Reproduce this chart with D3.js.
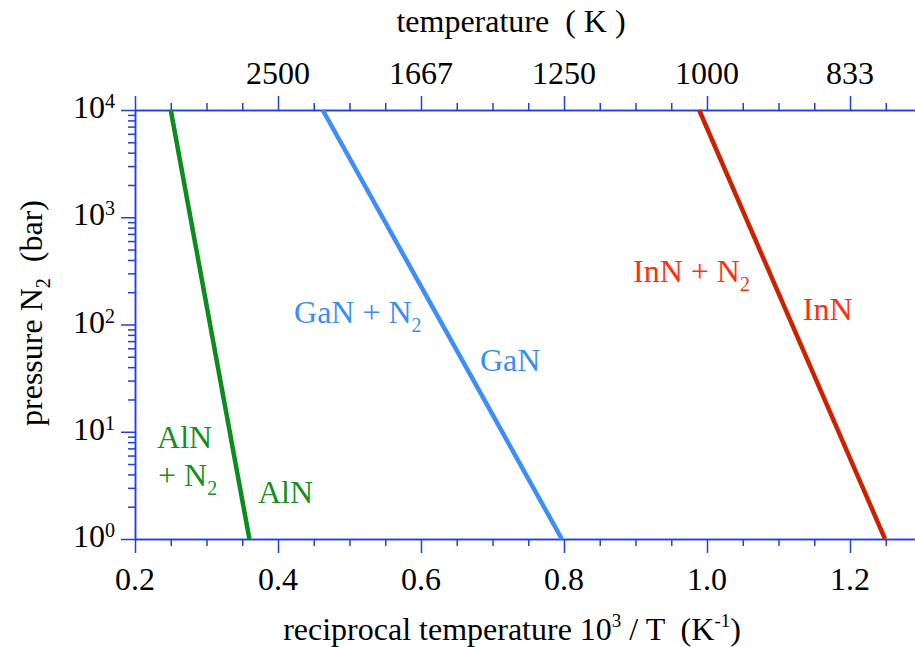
<!DOCTYPE html>
<html><head><meta charset="utf-8">
<script src="https://cdn.jsdelivr.net/npm/d3@7"></script>
<style>
body{margin:0;background:#fff;}
svg{display:block;font-family:"Liberation Serif","Times New Roman",serif;}
</style></head>
<body><svg id="c" width="915" height="647"></svg>
<script>
// ---- data ----
const compounds = ["AlN", "GaN", "InN"];
const recipTAtHighP = [0.25, 0.4625, 0.989];   // 10^3/T where p = 10^4 bar
const recipTAtLowP  = [0.36, 0.797, 1.249];    // 10^3/T where p = 10^0 bar
const pressureEnds  = [1e4, 1];
const lineColors  = ["#0b8c1f", "#3d8ef7", "#cc2200"];
const labelColors = ["#148f22", "#3a8ef2", "#ff3010"];
const xMajorTicks = [0.2, 0.4, 0.6, 0.8, 1.0, 1.2];
const xMajorLabels = ["0.2", "0.4", "0.6", "0.8", "1.0", "1.2"];
const topMajorTicks = [0.2, 0.4, 0.6, 0.8, 1.0, 1.2];
const topMajorLabels = ["", "2500", "1667", "1250", "1000", "833"];
const yMajorTicks = [1, 10, 100, 1000, 10000];
const yExponents = ["0", "1", "2", "3", "4"];
// annotation anchors (data units): [10^3/T, pressure]
const annotations = [
  {text: "AlN", sub: "", x: 0.2308, p: 7.06, c: 0},
  {text: "+ N", sub: "2", x: 0.2322, p: 3.12, c: 0},
  {text: "AlN", sub: "", x: 0.372, p: 2.17, c: 0},
  {text: "GaN + N", sub: "2", x: 0.4224, p: 104, c: 1},
  {text: "GaN", sub: "", x: 0.6825, p: 37.1, c: 1},
  {text: "InN + N", sub: "2", x: 0.8965, p: 250, c: 2},
  {text: "InN", sub: "", x: 1.134, p: 110, c: 2}
];

// ---- layout ----
const svg = d3.select("#c");
const axisColor = "#1f3fe6";
const x = d3.scaleLinear().domain([0.2, 1.3]).range([135, 135 + 1.1 * 715]);
const y = d3.scaleLog().domain([1, 1e4]).range([539, 110]);
const xMinor = d3.range(0, 23).map(i => +(0.2 + i * 0.05).toFixed(2)).filter(v => !xMajorTicks.some(m => Math.abs(m - v) < 1e-9));
const yMinor = [];
[1, 10, 100, 1000].forEach(d => { for (let k = 2; k <= 9; k++) yMinor.push(d * k); });

function styleAxis(g) {
  g.selectAll("path,line").attr("stroke", axisColor).attr("stroke-width", 1.5);
  g.selectAll("text").remove();
}
// minor ticks
svg.append("g").attr("transform", `translate(0,${y(1)})`).call(d3.axisBottom(x).tickValues(xMinor).tickSize(7).tickSizeOuter(0)).call(styleAxis);
svg.append("g").attr("transform", `translate(0,${y(1e4)})`).call(d3.axisTop(x).tickValues(xMinor).tickSize(7).tickSizeOuter(0)).call(styleAxis);
svg.append("g").attr("transform", `translate(${x(0.2)},0)`).call(d3.axisLeft(y).tickValues(yMinor).tickSize(7).tickSizeOuter(0)).call(styleAxis);
// major ticks
svg.append("g").attr("transform", `translate(0,${y(1)})`).call(d3.axisBottom(x).tickValues(xMajorTicks).tickSize(14).tickSizeOuter(0)).call(styleAxis);
svg.append("g").attr("transform", `translate(0,${y(1e4)})`).call(d3.axisTop(x).tickValues(topMajorTicks).tickSize(14).tickSizeOuter(0)).call(styleAxis);
svg.append("g").attr("transform", `translate(${x(0.2)},0)`).call(d3.axisLeft(y).tickValues(yMajorTicks).tickSize(14).tickSizeOuter(0)).call(styleAxis);

const fs = 32;
// bottom labels
svg.append("g").selectAll("text").data(xMajorTicks).join("text")
  .attr("x", d => x(d)).attr("y", 590).attr("text-anchor", "middle")
  .attr("font-size", fs).attr("fill", "#000").text((d, i) => xMajorLabels[i]);
// top labels
svg.append("g").selectAll("text").data(topMajorTicks).join("text")
  .attr("x", d => x(d)).attr("y", 84).attr("text-anchor", "middle")
  .attr("font-size", fs).attr("fill", "#000").text((d, i) => topMajorLabels[i]);
// y labels
const yl = svg.append("g").selectAll("text").data(yMajorTicks).join("text")
  .attr("x", 115).attr("y", d => y(d) + 8).attr("text-anchor", "end")
  .attr("font-size", fs).attr("fill", "#000");
yl.append("tspan").text("10");
yl.append("tspan").attr("font-size", 20).attr("dy", -10).text((d, i) => yExponents[i]);

// axis titles
svg.append("text").attr("x", 511).attr("y", 32).attr("text-anchor", "middle")
  .attr("font-size", fs).attr("fill", "#000").style("white-space", "pre")
  .text("temperature  ( K )");
const bt = svg.append("text").attr("x", 512).attr("y", 640).attr("text-anchor", "middle")
  .attr("font-size", fs).attr("fill", "#000").style("white-space", "pre");
bt.append("tspan").text("reciprocal temperature 10");
bt.append("tspan").attr("font-size", 19).attr("dy", -13).text("3");
bt.append("tspan").attr("dy", 13).text(" / T  (K");
bt.append("tspan").attr("font-size", 19).attr("dy", -13).text("-1");
bt.append("tspan").attr("dy", 13).text(")");
const lt = svg.append("text").attr("transform", "translate(42,313) rotate(-90)").attr("text-anchor", "middle")
  .attr("font-size", fs).attr("fill", "#000").style("white-space", "pre");
lt.append("tspan").text("pressure N");
lt.append("tspan").attr("font-size", 20).attr("dy", 8).text("2");
lt.append("tspan").attr("dy", -8).text("  (bar)");

// lines
const line = d3.line().x(d => x(d[0])).y(d => y(d[1]));
svg.append("g").selectAll("path").data(compounds).join("path")
  .attr("d", (d, i) => line([[recipTAtHighP[i], pressureEnds[0]], [recipTAtLowP[i], pressureEnds[1]]]))
  .attr("fill", "none").attr("stroke", (d, i) => lineColors[i]).attr("stroke-width", 4.5);

// annotations
const an = svg.append("g").selectAll("text").data(annotations).join("text")
  .attr("x", d => x(d.x)).attr("y", d => y(d.p)).attr("font-size", fs)
  .attr("fill", d => labelColors[d.c]).style("white-space", "pre");
an.append("tspan").text(d => d.text);
an.filter(d => d.sub).append("tspan").attr("font-size", 20).attr("dy", 9).text(d => d.sub);
</script></body></html>
